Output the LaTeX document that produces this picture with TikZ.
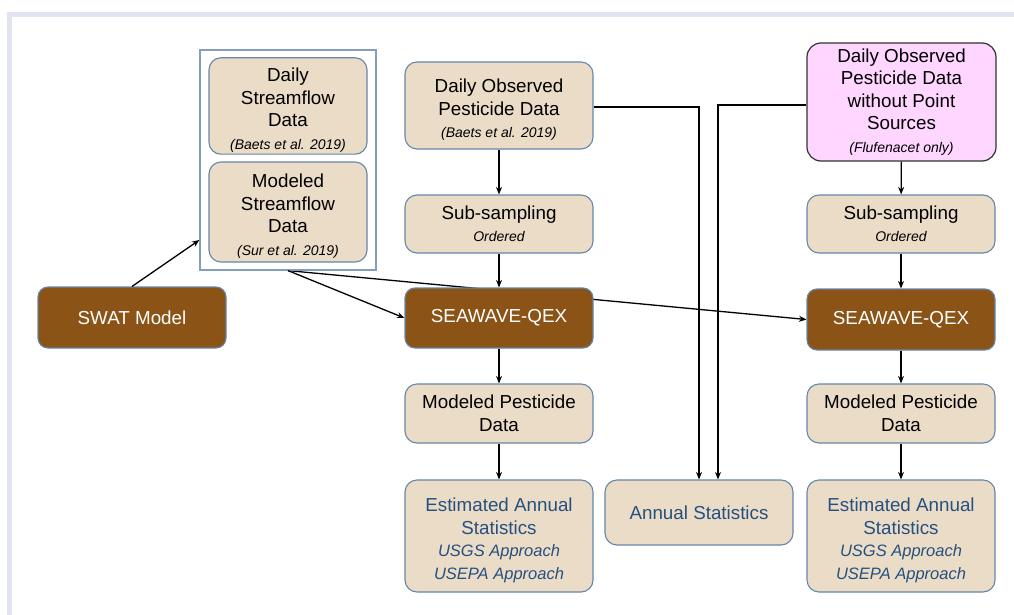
\documentclass[tikz,border=0pt]{standalone}
\usepackage{fontspec}
\setmainfont{Liberation Sans}
\usetikzlibrary{arrows.meta}
\pgfdeclarelayer{bg}
\pgfsetlayers{bg,main}

\definecolor{framec}{RGB}{226,229,241}
\definecolor{tanfill}{RGB}{235,220,200}
\definecolor{boxedge}{RGB}{100,134,170}
\definecolor{grpedge}{RGB}{130,158,186}
\definecolor{brownfill}{RGB}{139,83,22}
\definecolor{pinkfill}{RGB}{255,214,255}
\definecolor{pinkedge}{RGB}{50,50,50}
\definecolor{statblue}{RGB}{38,80,126}

\newcommand\mainsz{\fontsize{18.8}{22.5}\selectfont}
\newcommand\refsz{\fontsize{14}{20}\selectfont\itshape}
\newcommand\apprsz{\fontsize{16.5}{21}\selectfont\itshape}
% taller first line, so that multi-line text sits a little lower in its box
\newcommand\topstrut{\rule{0pt}{22pt}}

\begin{document}
\begin{tikzpicture}[x=1pt,y=-1pt,
  tanbox/.style={draw=boxedge, line width=1.1pt, fill=tanfill, rounded corners=12pt,
    minimum width=188pt, align=center, inner sep=2pt, font=\mainsz},
  brownbox/.style={draw=boxedge, line width=1.1pt, fill=brownfill, rounded corners=10pt,
    minimum width=188pt, align=center, text=white, font=\mainsz},
  pinkbox/.style={draw=pinkedge, line width=1.2pt, fill=pinkfill, rounded corners=14pt,
    minimum width=189pt, align=center, inner sep=2pt, font=\mainsz},
  grpbox/.style={draw=grpedge, line width=1.2pt, minimum width=176pt, minimum height=220pt},
  flow/.style={line width=1.3pt, -{Stealth[length=7.5pt,width=6pt]}}
]
\useasboundingbox (0,0) rectangle (1014,615);

% page frame
\fill[framec] (7,12) rectangle (1014,17);
\fill[framec] (7,12) rectangle (12,615);

% streamflow inputs
\node[grpbox] (grp) at (288,160) {};
\node[tanbox, minimum width=158pt, minimum height=96pt] (dsf) at (288,106)
  {\topstrut Daily\\Streamflow\\Data\\{\refsz (Baets et al. 2019)}};
\node[tanbox, minimum width=158pt, minimum height=100pt] (msf) at (288,212)
  {\topstrut Modeled\\Streamflow\\Data\\{\refsz (Sur et al. 2019)}};

\node[brownbox, minimum height=61pt] (swat) at (132,317.5) {SWAT Model};

% middle column
\node[tanbox, minimum height=87pt] (dop) at (499,105.5)
  {\topstrut Daily Observed\\Pesticide Data\\{\refsz (Baets et al. 2019)}};
\node[tanbox, minimum height=58pt] (sub1) at (499,224)
  {Sub-sampling\\{\refsz Ordered}};
\node[brownbox, minimum height=60pt] (sq1) at (499,318) {SEAWAVE-QEX};
\node[tanbox, minimum height=59pt] (mpd1) at (499,413.5)
  {Modeled Pesticide\\Data};
\node[tanbox, minimum height=112pt, text=statblue] (est1) at (499,536)
  {\topstrut Estimated Annual\\Statistics\\{\apprsz USGS Approach}\\{\apprsz USEPA Approach}};

% observed statistics
\node[tanbox, minimum height=65pt, text=statblue] (ann) at (699,512.5) {Annual Statistics};

% right column
\node[pinkbox, minimum height=118pt] (pink) at (901.5,102)
  {Daily Observed\\Pesticide Data\\without Point\\Sources\\{\refsz (Flufenacet only)}};
\node[tanbox, minimum height=58pt] (sub2) at (901,224)
  {Sub-sampling\\{\refsz Ordered}};
\node[brownbox, minimum height=61pt] (sq2) at (901,319.5) {SEAWAVE-QEX};
\node[tanbox, minimum height=59pt] (mpd2) at (901,413.5)
  {Modeled Pesticide\\Data};
\node[tanbox, minimum height=112pt, text=statblue] (est2) at (901,536)
  {\topstrut Estimated Annual\\Statistics\\{\apprsz USGS Approach}\\{\apprsz USEPA Approach}};

% connectors
\draw[flow] (swat.north) -- ([yshift=-80pt]grp.west);
\draw[flow] (grp.south) -- (sq1.west);
\begin{pgfonlayer}{bg}
  \draw[flow] (grp.south) -- (sq2.west);
\end{pgfonlayer}

\draw[flow] (dop) -- (sub1);
\draw[flow] (sub1) -- (sq1);
\draw[flow] (sq1) -- (mpd1);
\draw[flow] (mpd1) -- (est1);

\draw[flow] ([yshift=-1.5pt]dop.east) -| (ann.north);
\draw[flow] ([yshift=-3pt]pink.west) -| ([xshift=19pt]ann.north);

\draw[flow] (pink) -- (sub2);
\draw[flow] (sub2) -- (sq2);
\draw[flow] (sq2) -- (mpd2);
\draw[flow] (mpd2) -- (est2);
\end{tikzpicture}
\end{document}
